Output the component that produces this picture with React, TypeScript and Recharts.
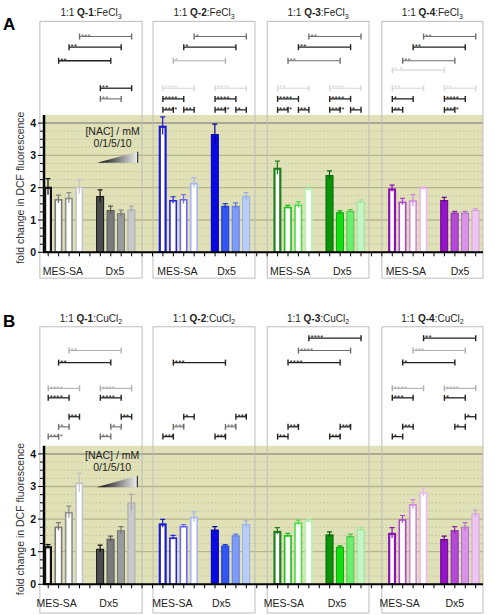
import React from 'react';
import { ComposedChart, Bar, XAxis, YAxis, ReferenceArea, ReferenceLine } from 'recharts';

const FONT = '"Liberation Sans", Arial, sans-serif';

const PANELS = ['Q-1', 'Q-2', 'Q-3', 'Q-4'];
const CELL_LINES = ['MES-SA', 'Dx5'];
const NAC_TITLE = '[NAC] / mM';
const NAC_DOSES = '0/1/5/10';
const Y_TITLE = 'fold change in DCF fluorescence';

// per panel: MES-SA at 0/1/5/10 mM NAC, then Dx5 at 0/1/5/10 mM NAC
const FE_MEANS = [
  [2.03, 1.65, 1.69, 2.03, 1.74, 1.31, 1.21, 1.33],
  [3.92, 1.62, 1.65, 2.15, 3.66, 1.44, 1.44, 1.74],
  [2.62, 1.41, 1.48, 1.98, 2.39, 1.24, 1.28, 1.57],
  [1.98, 1.57, 1.61, 2.0, 1.62, 1.23, 1.23, 1.31],
];
const FE_ERRS = [
  [0.25, 0.12, 0.16, 0.21, 0.19, 0.12, 0.1, 0.1],
  [0.27, 0.1, 0.14, 0.16, 0.31, 0.07, 0.09, 0.11],
  [0.2, 0.04, 0.09, 0.08, 0.13, 0.04, 0.04, 0.05],
  [0.1, 0.1, 0.18, 0.03, 0.08, 0.04, 0.04, 0.04],
];
const CU_MEANS = [
  [1.17, 1.77, 2.22, 3.12, 1.09, 1.4, 1.66, 2.51],
  [1.87, 1.44, 1.79, 2.07, 1.68, 1.19, 1.5, 1.85],
  [1.64, 1.51, 1.9, 1.96, 1.53, 1.15, 1.48, 1.69],
  [1.58, 2.0, 2.46, 2.82, 1.39, 1.66, 1.77, 2.17],
];
const CU_ERRS = [
  [0.05, 0.12, 0.18, 0.28, 0.11, 0.08, 0.11, 0.25],
  [0.12, 0.06, 0.04, 0.15, 0.09, 0.03, 0.04, 0.1],
  [0.1, 0.05, 0.07, 0.05, 0.08, 0.03, 0.06, 0.05],
  [0.16, 0.11, 0.14, 0.12, 0.09, 0.11, 0.12, 0.11],
];

// significance: [from slot, to slot, level, stars, tone]
const FE_BRACKETS: [number, number, number, string, number][] = [
  [3, 8, 6.68, '***', 1], [2, 7, 6.35, '**', 0], [1, 6, 5.93, '**', 0],
  [5, 8, 5.08, '**', 0], [5, 7, 4.75, '**', 1],
  [14, 19, 6.68, '*', 1], [13, 18, 6.35, '*', 0], [12, 17, 5.93, '*', 2],
  [11, 14, 5.08, '****', 3], [16, 19, 5.08, '****', 3],
  [11, 13, 4.75, '****', 0], [16, 18, 4.75, '****', 0],
  [11, 12, 4.41, '****', 0], [13, 14, 4.41, '**', 0], [16, 17, 4.41, '****', 0], [18, 19, 4.41, '*', 0],
  [25, 30, 6.68, '**', 1], [24, 29, 6.35, '**', 0], [23, 28, 5.93, '**', 1],
  [22, 25, 5.08, '**', 3], [27, 30, 5.08, '****', 3],
  [22, 24, 4.75, '****', 0], [27, 29, 4.75, '****', 0],
  [22, 23, 4.41, '****', 0], [24, 25, 4.41, '**', 0], [27, 28, 4.41, '****', 0], [29, 30, 4.41, '*', 0],
  [36, 41, 6.68, '**', 1], [35, 40, 6.35, '**', 0], [34, 39, 5.93, '**', 1], [33, 38, 5.64, '* *', 3],
  [33, 36, 5.08, '**', 3], [38, 41, 5.08, '**', 3],
  [33, 35, 4.75, '*', 0], [38, 40, 4.75, '****', 0],
  [33, 34, 4.41, '**', 0], [38, 39, 4.41, '****', 0],
];
const CU_BRACKETS: [number, number, number, string, number][] = [
  [2, 7, 7.17, '**', 2], [1, 6, 6.8, '**', 0],
  [0, 3, 6.01, '****', 2], [5, 8, 6.01, '****', 2],
  [0, 2, 5.72, '****', 0], [5, 7, 5.72, '****', 0],
  [2, 3, 5.14, '**', 0], [7, 8, 5.14, '**', 0],
  [1, 2, 4.83, '*', 1], [6, 7, 4.83, '*', 1],
  [0, 1, 4.53, '****', 1], [5, 6, 4.53, '**', 1],
  [12, 17, 6.8, '***', 0],
  [13, 14, 5.14, '*', 0], [18, 19, 5.14, '***', 0],
  [12, 13, 4.83, '***', 1], [17, 18, 4.83, '***', 1],
  [11, 12, 4.53, '***', 0], [16, 17, 4.53, '***', 0],
  [25, 30, 7.55, '****', 0], [24, 29, 7.17, '****', 1], [23, 28, 6.8, '****', 0],
  [23, 24, 4.83, '***', 0], [28, 29, 4.83, '***', 0],
  [22, 23, 4.53, '**', 0], [27, 28, 4.53, '***', 0],
  [36, 41, 7.55, '**', 0], [35, 40, 7.17, '***', 2], [34, 39, 6.8, '*', 0],
  [33, 36, 6.01, '****', 2], [38, 41, 6.01, '****', 2],
  [33, 35, 5.72, '***', 0], [38, 40, 5.72, '*', 0],
  [40, 41, 5.14, '*', 0],
  [34, 35, 4.83, '**', 0], [39, 40, 4.83, '*', 0],
  [33, 34, 4.53, '*', 0],
];

const FE_LABEL_SLOTS = [1.4, 6.4, 12.4, 17.1, 23.2, 28.2, 34.3, 39.5];
const CU_LABEL_SLOTS = [0.8, 5.8, 11.9, 16.6, 22.6, 27.7, 33.7, 39.0];

const SLOT_TICKS = Array.from({ length: 42 }, (_, i) => i);
const Y_TICKS = [0, 0.25, 0.5, 0.75, 1, 1.25, 1.5, 1.75, 2, 2.25, 2.5, 2.75, 3, 3.25, 3.5, 3.75, 4];
const MAJOR_GRID = [1, 2, 3, 4];
const MINOR_GRID = [0.25, 0.5, 0.75, 1.25, 1.5, 1.75, 2.25, 2.5, 2.75, 3.25, 3.5, 3.75];
const OLIVE_TOP = 4.25;
const X_DOMAIN: [number, number] = [-0.5, 41.7];
const BOX_X = [[-0.8, 9.0], [10.05, 19.83], [21.0, 30.76], [32.0, 41.7]];

const PALETTES = [
  { open: ['#111111', '#7a7a7a', '#8e8e8e', '#c4c4c4'], solid: ['#4d4d4d', '#7b7b7b', '#9b9b9b', '#c9c9c9'], edge: ['#111111', '#555555', '#777777', '#aaaaaa'] },
  { open: ['#1a1ad0', '#2424e6', '#6c6cf2', '#aab4f6'], solid: ['#0a0ae6', '#3355f2', '#7d9cf6', '#b9cdf7'], edge: ['#00009a', '#1a3ad0', '#5a7ae0', '#9ab0e8'] },
  { open: ['#1f7f1f', '#1fbf1f', '#4ede4e', '#b4f4b4'], solid: ['#0a940a', '#10e010', '#6ced6c', '#c2f6c2'], edge: ['#066006', '#0aa80a', '#4cc84c', '#a0e0a0'] },
  { open: ['#8a12b6', '#b043d2', '#d386e3', '#edbaf1'], solid: ['#9412c8', '#b64ad8', '#d892e8', '#efc6f2'], edge: ['#62088a', '#8a2aa8', '#b070c8', '#d0a0d8'] },
];
const TONES = ['#222222', '#6e6e6e', '#b0b0b0', '#d8d8d8'];

function buildRows(means: number[][], errs: number[][]) {
  const rows = [];
  for (let s = 0; s < 42; s++) {
    const p = Math.floor(s / 11);
    const pos = s % 11;
    const k = pos < 4 ? pos : pos >= 5 && pos <= 8 ? pos - 1 : -1;
    rows.push({ x: s, p, k, v: k < 0 ? null : means[p][k], e: k < 0 ? null : errs[p][k] });
  }
  return rows;
}

function BarShape(props: any) {
  const { x, y, width, height, payload } = props;
  if (!payload || payload.v == null || !height) return <g />;
  const pal = PALETTES[payload.p];
  const open = payload.k < 4;
  const i = payload.k % 4;
  const stroke = open ? pal.open[i] : pal.edge[i];
  const sw = open ? (i === 0 ? 2.2 : 1.6) : 1;
  const errPx = (payload.e / payload.v) * height;
  const cx = x + width / 2;
  return (
    <g>
      <rect x={x + sw / 2} y={y + sw / 2} width={width - sw} height={height - sw / 2}
        fill={open ? '#ffffff' : pal.solid[i]} stroke={stroke} strokeWidth={sw} />
      <line x1={cx} x2={cx} y1={y - errPx} y2={y + errPx} stroke={stroke} strokeWidth={1.2} />
      <line x1={cx - 2.5} x2={cx + 2.5} y1={y - errPx} y2={y - errPx} stroke={stroke} strokeWidth={1.2} />
    </g>
  );
}

function PlotBackground(props: any) {
  const { x, y, width, height } = props;
  const unit = height / OLIVE_TOP;
  const base = y + height;
  return (
    <g>
      <rect x={x} y={y} width={width} height={height} fill="#e1e1b7" />
      {MINOR_GRID.map((v) => (
        <line key={`n${v}`} x1={x} x2={x + width} y1={base - v * unit} y2={base - v * unit}
          stroke="#c4c49c" strokeWidth={1} strokeDasharray="1.5 2" />
      ))}
      {MAJOR_GRID.map((v) => (
        <line key={`j${v}`} x1={x} x2={x + width} y1={base - v * unit} y2={base - v * unit}
          stroke={v === 4 ? '#a8a894' : '#b6b68a'} strokeWidth={v === 4 ? 2 : 1.3} />
      ))}
      <line x1={x + 1} x2={x + 1} y1={base} y2={y} stroke="#000" strokeWidth={2.5} />
      <text transform={`translate(${x - 23},${base - 2 * unit}) rotate(-90)`} textAnchor="middle"
        dy="0.35em" fontSize={10.5} fill="#333" fontFamily={FONT}>{Y_TITLE}</text>
    </g>
  );
}

function PanelBox(props: any) {
  const { x, y, width, height, title, salt, sub } = props;
  return (
    <g>
      <rect x={x} y={y} width={width} height={height} fill="none" stroke="#bdbdbd" strokeWidth={1} />
      <text x={x + width / 2} y={y - 5} textAnchor="middle" fontSize={10} fill="#222" fontFamily={FONT}>
        {'1:1 '}<tspan fontWeight="bold">{title}</tspan>{`:${salt}`}
        <tspan fontSize={7} dy={2.5}>{sub}</tspan>
      </text>
    </g>
  );
}

function NacKey(props: any) {
  const { x, y, width, height, gid } = props;
  const tx = x + width * 0.38;
  return (
    <g>
      <defs>
        <linearGradient id={gid} x1="0" y1="0" x2="1" y2="0">
          <stop offset="0" stopColor="#000000" />
          <stop offset="1" stopColor="#f0f0f0" />
        </linearGradient>
      </defs>
      <polygon points={`${x},${y + height} ${x + width},${y} ${x + width},${y + height}`} fill={`url(#${gid})`} />
      <line x1={x + width} x2={x + width} y1={y} y2={y + height} stroke="#333" strokeWidth={1.2} />
      <text x={tx} y={y - 16.7} textAnchor="middle" fontSize={10.5} fill="#222" fontFamily={FONT}>{NAC_TITLE}</text>
      <text x={tx} y={y - 4.5} textAnchor="middle" fontSize={10.5} fill="#222" fontFamily={FONT}>{NAC_DOSES}</text>
    </g>
  );
}

function Bracket(props: any) {
  const { x1, y1, x2, stars, tone } = props;
  const c = TONES[tone];
  return (
    <g>
      <line x1={x1} x2={x2} y1={y1} y2={y1} stroke={c} strokeWidth={tone === 0 ? 1.3 : 1.1} />
      <line x1={x1} x2={x1} y1={y1 - 3} y2={y1 + 3} stroke={c} strokeWidth={1.4} />
      <line x1={x2} x2={x2} y1={y1 - 3} y2={y1 + 3} stroke={c} strokeWidth={1.4} />
      <text x={x1 + 1.5} y={y1 + 2.2} fontSize={8} letterSpacing={0.2} fill={c} fontFamily={FONT}>{stars}</text>
    </g>
  );
}

function YTick(props: any) {
  const { x, y, payload } = props;
  const v = payload.value;
  const major = v % 1 === 0;
  return (
    <g>
      <line x1={x - (major ? 5 : 3)} x2={x} y1={y} y2={y} stroke="#000" strokeWidth={1} />
      {major && (
        <text x={x - 7} y={y + 3.8} textAnchor="end" fontSize={10.5} fontWeight="bold" fill="#111" fontFamily={FONT}>{v}</text>
      )}
    </g>
  );
}

interface FigureProps {
  means: number[][];
  errs: number[][];
  brackets: [number, number, number, string, number][];
  labelSlots: number[];
  salt: string;
  sub: string;
  yMax: number;
  height: number;
  margin: { top: number; right: number; bottom: number; left: number };
  boxY: [number, number];
  nac: [number, number, number, number];
  gid: string;
}

function Figure({ means, errs, brackets, labelSlots, salt, sub, yMax, height, margin, boxY, nac, gid }: FigureProps) {
  const rows = buildRows(means, errs);
  return (
    <ComposedChart width={495} height={height} data={rows} margin={margin}>
      <XAxis dataKey="x" type="number" domain={X_DOMAIN} allowDataOverflow ticks={SLOT_TICKS} interval={0}
        tickFormatter={() => ''} axisLine={{ stroke: '#000', strokeWidth: 2 }} tickLine={{ stroke: '#000' }}
        tickSize={4} height={6} />
      <XAxis xAxisId="lab" dataKey="x" type="number" domain={X_DOMAIN} allowDataOverflow ticks={labelSlots}
        interval={0} tickFormatter={(_v: number, i: number) => CELL_LINES[i % 2]} axisLine={false} tickLine={false}
        tickSize={0} tickMargin={9} height={22} tick={{ fontSize: 10.5, fill: '#222', fontFamily: FONT }} />
      <YAxis type="number" domain={[0, yMax]} allowDataOverflow ticks={Y_TICKS} interval={0} width={43}
        axisLine={false} tickLine={false} tickSize={0} tickMargin={0} tick={<YTick />} />
      <ReferenceArea x1={X_DOMAIN[0]} x2={X_DOMAIN[1]} y1={0} y2={OLIVE_TOP} shape={PlotBackground} />
      {PANELS.map((q, p) => (
        <ReferenceArea key={q} x1={BOX_X[p][0]} x2={BOX_X[p][1]} y1={boxY[0]} y2={boxY[1]} ifOverflow="visible"
          shape={(s: any) => <PanelBox {...s} title={q} salt={salt} sub={sub} />} />
      ))}
      <ReferenceArea x1={nac[0]} x2={nac[1]} y1={nac[2]} y2={nac[3]} shape={(s: any) => <NacKey {...s} gid={gid} />} />
      <Bar dataKey="v" barSize={8} isAnimationActive={false} shape={BarShape} />
      {brackets.map(([a, b, lvl, stars, tone], i) => (
        <ReferenceLine key={i} segment={[{ x: a, y: lvl }, { x: b, y: lvl }]}
          shape={(s: any) => <Bracket {...s} stars={stars} tone={tone} />} />
      ))}
    </ComposedChart>
  );
}

export default function App() {
  return (
    <div style={{ position: 'absolute', left: 0, top: 0, width: 495, height: 615, background: '#fff', fontFamily: FONT }}>
      <div style={{ position: 'absolute', left: 0, top: 0 }}>
        <Figure means={FE_MEANS} errs={FE_ERRS} brackets={FE_BRACKETS} labelSlots={FE_LABEL_SLOTS}
          salt="FeCl" sub="3" yMax={7.2} height={300}
          margin={{ top: 19.74, right: 12, bottom: 19.7, left: 0 }}
          boxY={[-0.8, 7.15]} nac={[4.7, 8.58, 2.77, 3.11]} gid="nacA" />
      </div>
      <div style={{ position: 'absolute', left: 0, top: 300 }}>
        <Figure means={CU_MEANS} errs={CU_ERRS} brackets={CU_BRACKETS} labelSlots={CU_LABEL_SLOTS}
          salt="CuCl" sub="2" yMax={8.0} height={315}
          margin={{ top: 23.5, right: 12, bottom: 2.7, left: 0 }}
          boxY={[-0.88, 7.9]} nac={[4.65, 8.55, 2.98, 3.33]} gid="nacB" />
      </div>
      <div style={{ position: 'absolute', left: 3, top: 16, fontSize: 17, fontWeight: 'bold', lineHeight: 1, fontFamily: FONT }}>A</div>
      <div style={{ position: 'absolute', left: 3, top: 313, fontSize: 17, fontWeight: 'bold', lineHeight: 1, fontFamily: FONT }}>B</div>
    </div>
  );
}
